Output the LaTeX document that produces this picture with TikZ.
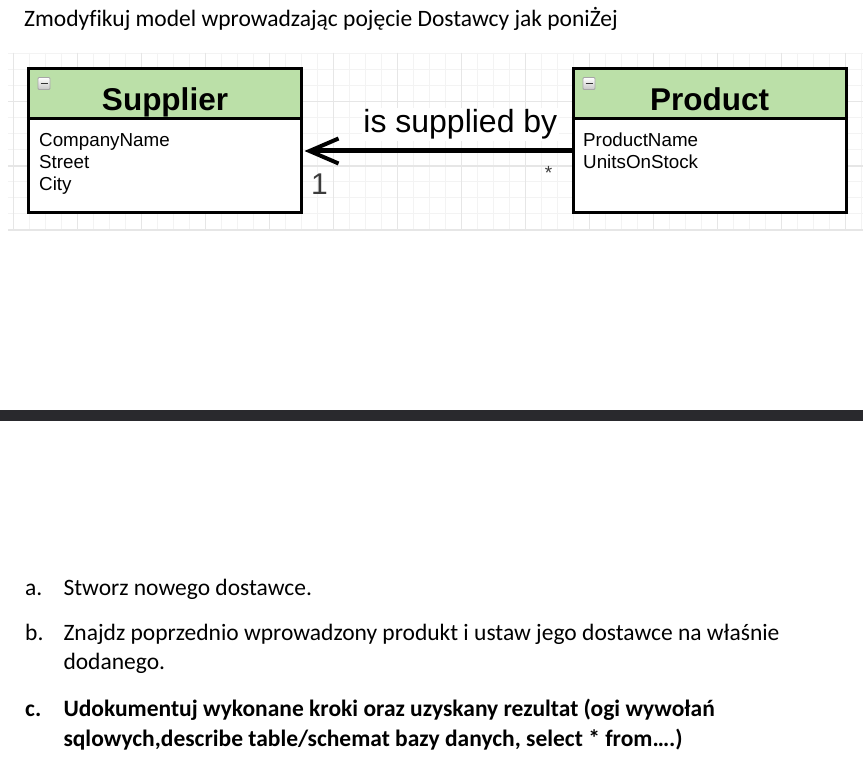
\documentclass[tikz,border=0pt]{standalone}
\usepackage{fontspec}
\newfontfamily\docfont[Ligatures=NoCommon]{Carlito}
\newfontfamily\umlfont{Liberation Sans}
\usetikzlibrary{arrows.meta}
\definecolor{headgreen}{HTML}{BBE0A8}
\definecolor{gridmajor}{HTML}{E6E6E6}
\definecolor{gridminor}{HTML}{F3F3F3}
\definecolor{barcolor}{HTML}{29292D}
\definecolor{multcolor}{HTML}{3C3C3C}
\begin{document}
\begin{tikzpicture}[x=1pt,y=-1pt,
  classhead/.style={draw=black, line width=3pt, fill=headgreen,
    minimum width=273pt, minimum height=50pt, inner sep=0pt, outer sep=0pt,
    font=\umlfont\fontsize{31.5}{36}\bfseries\selectfont,
    text height=35pt, text depth=0pt},
  classbody/.style={draw=black, line width=3pt, fill=white,
    minimum width=273pt, minimum height=94pt, inner sep=0pt, outer sep=0pt},
  attr/.style={anchor=base west, inner sep=0pt,
    font=\umlfont\fontsize{18.8}{22}\selectfont},
  assoc/.style={line width=5pt, -{Straight Barb[length=29pt, width=25pt, line width=4pt]}},
  rolelabel/.style={inner sep=1.5pt, fill=white,
    font=\umlfont\fontsize{32}{36}\selectfont},
  mult/.style={inner sep=0pt, text=multcolor},
  doctext/.style={anchor=base west, inner sep=0pt,
    font=\docfont\fontsize{23.5}{28}\selectfont},
  docbold/.style={doctext, font=\docfont\fontsize{23.5}{28}\bfseries\selectfont},
  collapse/.style={draw=gray!70, rounded corners=1pt, line width=0.8pt,
    top color=white, bottom color=gray!45},
]
\useasboundingbox (0,0) rectangle (863,762);
\fill[white] (0,0) rectangle (863,762);

% background grid of the diagram area
\begin{scope}
  \clip (8,53) rectangle (863,231);
  \foreach \k in {0,...,53} {
    \draw[gridminor, line width=1pt] (13.3+16*\k,53) -- (13.3+16*\k,231);
  }
  \foreach \k in {-3,...,8} {
    \draw[gridminor, line width=1pt] (8,101.7+16*\k) -- (863,101.7+16*\k);
  }
  \foreach \k in {0,...,13} {
    \draw[gridmajor, line width=1.6pt] (13.3+64*\k,53) -- (13.3+64*\k,231);
  }
  \foreach \k in {0,1,2} {
    \draw[gridmajor, line width=1.6pt] (8,101.7+64.2*\k) -- (863,101.7+64.2*\k);
  }
\end{scope}

% title
\node[doctext] (title) at (24,26.7) {Zmodyfikuj model wprowadzając pojęcie Dostawcy jak poniŻej};

% Supplier class
\node[classbody] (supbody) at (165,165.5) {};
\node[classhead] (suphead) at (165,93.5) {Supplier};
\node[attr] (supa1) at (39,147) {CompanyName};
\node[attr] (supa2) at (39,169) {Street};
\node[attr] (supa3) at (39,191) {City};
\draw[collapse] (38,77.5) rectangle (50,89.5);
\draw[line width=1.6pt, black!80] (40.5,83.5) -- (47.5,83.5);

% Product class
\node[classbody] (prodbody) at (709.5,165.5) {};
\node[classhead] (prodhead) at (709.5,93.5) {Product};
\node[attr] (proda1) at (583,147) {ProductName};
\node[attr] (proda2) at (583,169) {UnitsOnStock};
\draw[collapse] (583,77.5) rectangle (595,89.5);
\draw[line width=1.6pt, black!80] (585.5,83.5) -- (592.5,83.5);

% association Product -> Supplier
\draw[assoc] ([yshift=14.5pt]prodbody.west) -- ([xshift=3pt,yshift=14.5pt]supbody.east);
\node[rolelabel, anchor=base east] (role) at (559,132.7) {is supplied by};
\node[mult, anchor=base west, font=\umlfont\fontsize{30}{34}\selectfont] (multone) at (311,195) {1};
\node[mult, anchor=base, font=\umlfont\fontsize{19}{22}\selectfont] (multmany) at (548.5,180) {*};

% separator bar
\fill[barcolor] (0,410) rectangle (863,421);

% task list
\node[doctext] (la) at (25,595.5) {a.};
\node[doctext] (ta) at (63.3,595.5) {Stworz nowego dostawce.};
\node[doctext] (lb) at (25,640) {b.};
\node[doctext] (tb1) at (63.3,640) {Znajdz poprzednio wprowadzony produkt i ustaw jego dostawce na właśnie};
\node[doctext] (tb2) at (63.3,669.5) {dodanego.};
\node[docbold] (lc) at (25,716.5) {c.};
\node[docbold] (tc1) at (63.3,716.5) {Udokumentuj wykonane kroki oraz uzyskany rezultat (ogi wywołań};
\node[docbold] (tc2) at (63.3,746) {sqlowych,describe table/schemat bazy danych, select * from….)};
\end{tikzpicture}
\end{document}
